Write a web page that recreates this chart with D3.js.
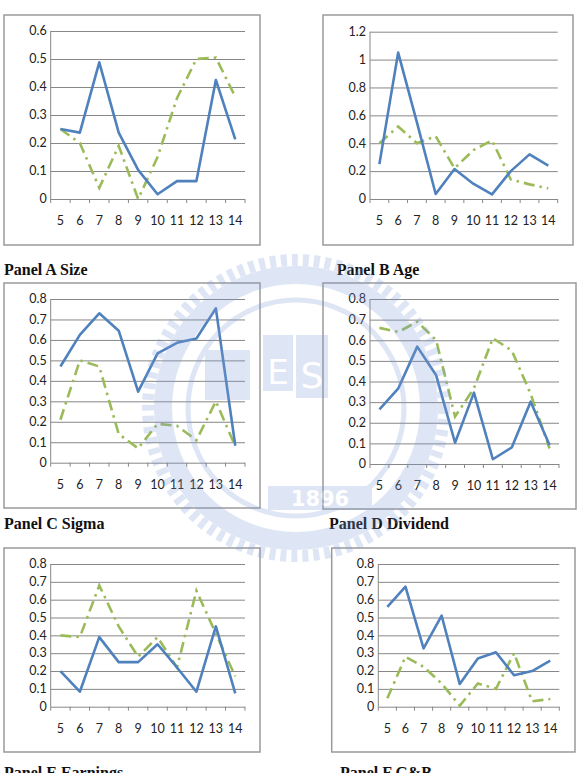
<!DOCTYPE html>
<html>
<head>
<meta charset="utf-8">
<script src="https://cdn.jsdelivr.net/npm/d3@7"></script>
<style>
body { margin: 0; background: #fff; }
svg { display: block; }
</style>
</head>
<body>
<svg id="chart"></svg>
<script>
const width = 581, height = 773;

// x categories
const years = [5, 6, 7, 8, 9, 10, 11, 12, 13, 14];

// y tick labels
const ticks06 = [0, 0.1, 0.2, 0.3, 0.4, 0.5, 0.6];
const ticks08 = [0, 0.1, 0.2, 0.3, 0.4, 0.5, 0.6, 0.7, 0.8];
const ticks12 = [0, 0.2, 0.4, 0.6, 0.8, 1, 1.2];

// series values
const sizeBlue      = [0.25, 0.237, 0.488, 0.237, 0.104, 0.017, 0.064, 0.064, 0.425, 0.213];
const sizeGreen     = [0.25, 0.2, 0.04, 0.19, 0.0, 0.15, 0.36, 0.5, 0.505, 0.365];
const ageBlue       = [0.25, 1.05, 0.55, 0.036, 0.215, 0.11, 0.033, 0.2, 0.32, 0.24];
const ageGreen      = [0.4, 0.52, 0.4, 0.45, 0.22, 0.35, 0.42, 0.14, 0.105, 0.077];
const sigmaBlue     = [0.47, 0.625, 0.73, 0.645, 0.347, 0.534, 0.586, 0.607, 0.754, 0.083];
const sigmaGreen    = [0.21, 0.5, 0.47, 0.14, 0.07, 0.19, 0.18, 0.11, 0.3, 0.08];
const dividendBlue  = [0.265, 0.367, 0.569, 0.43, 0.103, 0.346, 0.023, 0.08, 0.302, 0.092];
const dividendGreen = [0.66, 0.64, 0.69, 0.6, 0.23, 0.367, 0.61, 0.55, 0.34, 0.075];
const earnBlue      = [0.2, 0.084, 0.39, 0.25, 0.25, 0.35, 0.22, 0.084, 0.45, 0.075];
const earnGreen     = [0.4, 0.39, 0.68, 0.45, 0.28, 0.39, 0.22, 0.65, 0.41, 0.17];
const gbBlue        = [0.56, 0.673, 0.327, 0.51, 0.127, 0.27, 0.305, 0.176, 0.2, 0.258];
const gbGreen       = [0.047, 0.28, 0.224, 0.13, 0.006, 0.13, 0.1, 0.3, 0.03, 0.043];

const captions = ["Panel A Size", "Panel B Age", "Panel C Sigma", "Panel D Dividend", "Panel E Earnings", "Panel F G&B"];

// layout of each panel: outer box, plot area, caption position
const layout = [
  {box: [4, 15, 256, 230],   left: 50.7,  right: 245,   top: 31,   zero: 199,   cap: [4, 275]},
  {box: [323, 15, 250, 230], left: 370,   right: 557.7, top: 31.7, zero: 199,   cap: [336.7, 275]},
  {box: [4, 283, 256, 225],  left: 50.7,  right: 245,   top: 299,  zero: 462.7, cap: [4, 529]},
  {box: [323, 283, 253, 226],left: 370,   right: 559,   top: 299,  zero: 464,   cap: [329, 529]},
  {box: [4, 548, 256, 204],  left: 50.7,  right: 245,   top: 564,  zero: 706.7, cap: [4, 778]},
  {box: [331.7, 548, 243.3, 204], left: 378.3, right: 559.3, top: 564, zero: 706.7, cap: [340, 778]}
];

const series = [
  [sizeBlue, sizeGreen, ticks06],
  [ageBlue, ageGreen, ticks12],
  [sigmaBlue, sigmaGreen, ticks08],
  [dividendBlue, dividendGreen, ticks08],
  [earnBlue, earnGreen, ticks08],
  [gbBlue, gbGreen, ticks08]
];

const svg = d3.select("#chart")
    .attr("width", width)
    .attr("height", height)
    .attr("viewBox", [0, 0, width, height]);

const gridColor = "#878787";
const blue = "#4f81bd";
const green = "#9bbb59";
const labelFont = "Lato, 'Open Sans', sans-serif";

series.forEach(function(s, i) {
  let L = layout[i];
  let blueVals = s[0], greenVals = s[1], ticks = s[2];

  let g = svg.append("g");

  g.append("rect")
    .attr("x", L.box[0]).attr("y", L.box[1])
    .attr("width", L.box[2]).attr("height", L.box[3])
    .attr("fill", "#fff")
    .attr("stroke", "#9a9a9a")
    .attr("stroke-width", 1.5);

  let x = d3.scaleBand().domain(years).range([L.left, L.right]).padding(0);
  let y = d3.scaleLinear().domain([0, d3.max(ticks)]).range([L.zero, L.top]);

  // horizontal gridlines
  g.append("g")
    .attr("transform", `translate(${L.left},0)`)
    .call(d3.axisLeft(y).tickValues(ticks).tickSize(-(L.right - L.left)).tickFormat(""))
    .call(a => a.select(".domain").remove())
    .selectAll("line")
    .attr("stroke", gridColor)
    .attr("stroke-width", 1);

  // y axis line and labels
  g.append("line")
    .attr("x1", L.left).attr("x2", L.left)
    .attr("y1", L.top).attr("y2", L.zero)
    .attr("stroke", gridColor);

  g.selectAll(".ylab").data(ticks).enter()
    .append("text")
    .attr("x", L.left - 4)
    .attr("y", d => y(d) + 4.3)
    .attr("text-anchor", "end")
    .attr("font-family", labelFont)
    .attr("font-size", 12.5)
    .attr("fill", "#222")
    .text(d => String(d));

  // x axis ticks at category boundaries
  let bounds = years.map(d => x(d)).concat([L.right]);
  g.selectAll(".xtick").data(bounds).enter()
    .append("line")
    .attr("x1", d => d).attr("x2", d => d)
    .attr("y1", L.zero).attr("y2", L.zero + 4)
    .attr("stroke", gridColor);

  g.selectAll(".xlab").data(years).enter()
    .append("text")
    .attr("x", d => x(d) + x.bandwidth() / 2)
    .attr("y", L.zero + 26)
    .attr("text-anchor", "middle")
    .attr("font-family", labelFont)
    .attr("font-size", 12.5)
    .attr("fill", "#222")
    .text(d => d);

  let line = d3.line()
    .x((d, j) => x(years[j]) + x.bandwidth() / 2)
    .y(d => y(d));

  g.append("path")
    .datum(greenVals)
    .attr("d", line)
    .attr("fill", "none")
    .attr("stroke", green)
    .attr("stroke-width", 2.6)
    .attr("stroke-dasharray", "11,5,2.5,5");

  g.append("path")
    .datum(blueVals)
    .attr("d", line)
    .attr("fill", "none")
    .attr("stroke", blue)
    .attr("stroke-width", 2.6)
    .attr("stroke-linejoin", "round");

  svg.append("text")
    .attr("x", L.cap[0])
    .attr("y", L.cap[1])
    .attr("font-family", "'Liberation Serif', 'Times New Roman', serif")
    .attr("font-weight", "bold")
    .attr("font-size", 16)
    .attr("fill", "#111")
    .text(captions[i]);
});

// faint university emblem watermark on top
let wm = svg.append("g").attr("opacity", 0.25).attr("pointer-events", "none");
let cx = 296, cy = 408;
let wmColor = "#7f9ad8";
wm.append("circle").attr("cx", cx).attr("cy", cy).attr("r", 148)
  .attr("fill", "none").attr("stroke", wmColor).attr("stroke-width", 12)
  .attr("stroke-dasharray", "6,5");
wm.append("circle").attr("cx", cx).attr("cy", cy).attr("r", 133)
  .attr("fill", "none").attr("stroke", wmColor).attr("stroke-width", 18);
wm.append("circle").attr("cx", cx).attr("cy", cy).attr("r", 108)
  .attr("fill", "none").attr("stroke", wmColor).attr("stroke-width", 5);
wm.append("rect").attr("x", 263).attr("y", 335).attr("width", 30).attr("height", 56).attr("fill", wmColor);
wm.append("rect").attr("x", 296).attr("y", 335).attr("width", 32).attr("height", 63).attr("fill", wmColor);
wm.append("rect").attr("x", 205).attr("y", 350).attr("width", 45).attr("height", 50).attr("fill", wmColor);
wm.append("text").attr("x", 278).attr("y", 384).attr("text-anchor", "middle")
  .attr("font-family", "'DejaVu Sans', sans-serif").attr("font-size", 34).attr("fill", "#fff").text("E");
wm.append("text").attr("x", 312).attr("y", 388).attr("text-anchor", "middle")
  .attr("font-family", "'DejaVu Sans', sans-serif").attr("font-size", 36).attr("fill", "#fff").text("S");
wm.append("rect").attr("x", 268).attr("y", 486).attr("width", 104).attr("height", 24).attr("fill", wmColor);
wm.append("text").attr("x", 320).attr("y", 506).attr("text-anchor", "middle")
  .attr("font-family", "'DejaVu Sans', sans-serif").attr("font-weight", "bold")
  .attr("font-size", 21).attr("fill", "#fff").text("1896");
</script>
</body>
</html>
